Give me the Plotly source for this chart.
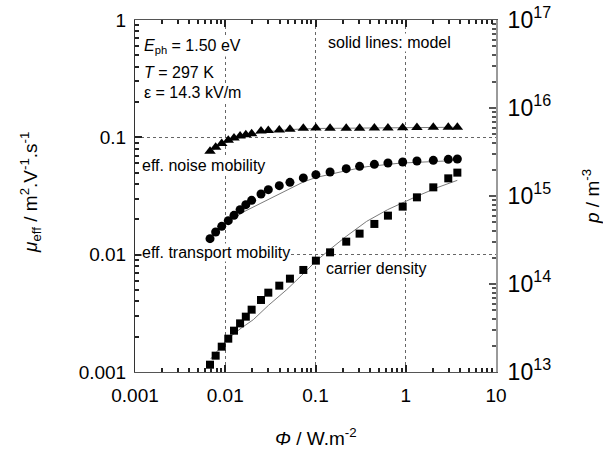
import plotly.graph_objects as go

# Photon flux density (W/m^2) shared by the three measured series
phi = [0.00678, 0.00783, 0.00914, 0.0108, 0.0125, 0.0146, 0.0169, 0.0196,
       0.0249, 0.0300, 0.0397, 0.0521, 0.0733, 0.101, 0.145, 0.219,
       0.308, 0.449, 0.635, 0.925, 1.33, 2.02, 2.96, 3.73]

# Effective noise mobility (m^2/Vs), triangles
mu_noise = [0.0760, 0.0822, 0.0884, 0.0943, 0.0988, 0.1028, 0.1054, 0.1075,
            0.1134, 0.1141, 0.1156, 0.1170, 0.1193, 0.1202, 0.1195, 0.1195,
            0.1198, 0.1200, 0.1203, 0.1206, 0.1212, 0.1217, 0.1217, 0.1217]

# Effective transport mobility (m^2/Vs), circles
mu_transport = [0.01369, 0.01561, 0.01743, 0.01950, 0.02163, 0.02419, 0.02669, 0.02904,
                0.03292, 0.03581, 0.03874, 0.04133, 0.04507, 0.04809, 0.05070, 0.05408,
                0.05659, 0.05884, 0.06049, 0.06169, 0.06291, 0.06365, 0.06492, 0.06543]

# Carrier density (m^-3), squares, right axis
p_density = [1.211e13, 1.533e13, 1.940e13, 2.392e13, 2.949e13, 3.569e13, 4.255e13, 5.108e13,
             6.585e13, 7.973e13, 9.575e13, 1.150e14, 1.444e14, 1.842e14, 2.289e14, 3.029e14,
             3.735e14, 4.813e14, 5.981e14, 7.570e14, 9.656e14, 1.254e15, 1.587e15, 1.843e15]

# Model curves
phi_noise_model = [0.00678, 0.0092, 0.0125, 0.0170, 0.0243, 0.0360, 0.0521, 0.1, 0.311, 0.863, 3.70]
mu_noise_model = [0.0752, 0.0870, 0.0960, 0.1030, 0.1100, 0.1140, 0.1165, 0.1190, 0.1202, 0.1209, 0.1219]

phi_transport_model = [0.00678, 0.0092, 0.0125, 0.0170, 0.0243, 0.0356, 0.0521, 0.0727,
                       0.1, 0.145, 0.219, 0.372, 0.863, 3.70]
mu_transport_model = [0.01424, 0.01767, 0.02067, 0.02372, 0.02722, 0.03152, 0.03652, 0.04150,
                      0.04534, 0.04857, 0.05200, 0.05625, 0.06026, 0.06354]

phi_density_model = [0.00690, 0.00914, 0.01064, 0.0150, 0.02046, 0.0300, 0.0480, 0.070, 0.1,
                     0.150, 0.219, 0.369, 0.631, 1.322, 2.30, 3.726]
p_density_model = [1.406e13, 1.956e13, 2.392e13, 3.15e13, 3.933e13, 5.70e13, 8.625e13, 1.25e14,
                   1.80e14, 2.55e14, 3.479e14, 5.152e14, 6.998e14, 9.911e14, 1.26e15, 1.507e15]

x_ticks = [0.001, 0.01, 0.1, 1, 10]
x_ticktext = ["0.001", "0.01", "0.1", "1", "10"]
y_ticks = [0.001, 0.01, 0.1, 1]
y_ticktext = ["0.001", "0.01", "0.1", "1"]
p_ticks = [1e13, 1e14, 1e15, 1e16, 1e17]
p_ticktext = ["10<sup>13</sup>", "10<sup>14</sup>", "10<sup>15</sup>",
              "10<sup>16</sup>", "10<sup>17</sup>"]


def minor_positions(lo_exp, hi_exp):
    """Positions 2..9 x 10^n between two decades, for minor tick marks."""
    return [m * 10.0 ** e for e in range(lo_exp, hi_exp) for m in range(2, 10)]


FONT = "Arial, Liberation Sans, sans-serif"
LINE_COLOR = "#7a7a7a"
AXIS_DARK = "#222222"
AXIS_GREY = "#9a9a9a"
TICK_W = 1.5

fig = go.Figure()

for xs, ys, axis in [(phi_noise_model, mu_noise_model, "y"),
                     (phi_transport_model, mu_transport_model, "y"),
                     (phi_density_model, p_density_model, "y2")]:
    fig.add_trace(go.Scatter(x=xs, y=ys, mode="lines", yaxis=axis,
                             line=dict(color=LINE_COLOR, width=1),
                             showlegend=False, hoverinfo="skip"))

fig.add_trace(go.Scatter(x=phi, y=mu_noise, mode="markers",
                         marker=dict(symbol="triangle-up", size=10, color="black"),
                         showlegend=False))
fig.add_trace(go.Scatter(x=phi, y=mu_transport, mode="markers",
                         marker=dict(symbol="circle", size=9, color="black"),
                         showlegend=False))
fig.add_trace(go.Scatter(x=phi, y=p_density, mode="markers", yaxis="y2",
                         marker=dict(symbol="square", size=8, color="black"),
                         showlegend=False))

# transparent placeholders so the minor-tick companion axes get rendered
for xa, ya, yv in [("x2", "y3", 0.1), ("x", "y4", 1e15)]:
    fig.add_trace(go.Scatter(x=[0.1], y=[yv], xaxis=xa, yaxis=ya, mode="markers",
                             marker=dict(opacity=0, size=1),
                             showlegend=False, hoverinfo="skip"))

tick_font = dict(family=FONT, size=19, color="black")

fig.update_layout(
    width=603, height=450,
    margin=dict(l=135, r=107, t=20, b=78, autoexpand=False),
    paper_bgcolor="white", plot_bgcolor="white",
    font=dict(family=FONT, color="black"),
    xaxis=dict(
        type="log", range=[-3, 1],
        tickmode="array", tickvals=x_ticks, ticktext=x_ticktext,
        ticks="inside", ticklen=7, tickcolor=AXIS_DARK, tickwidth=TICK_W,
        showline=True, linecolor="#555", linewidth=1, mirror="ticks",
        showgrid=True, gridcolor="#666", griddash="dot", gridwidth=1,
        zeroline=False, tickfont=tick_font, ticklabelstandoff=6,
    ),
    yaxis=dict(
        type="log", range=[-3, 0],
        tickmode="array", tickvals=y_ticks, ticktext=y_ticktext,
        ticks="inside", ticklen=7, tickcolor=AXIS_DARK, tickwidth=TICK_W,
        showline=True, linecolor="#333", linewidth=1,
        showgrid=True, gridcolor="#666", griddash="dot", gridwidth=1,
        zeroline=False, tickfont=tick_font, ticklabelstandoff=4,
    ),
    yaxis2=dict(
        type="log", range=[13, 17], overlaying="y", side="right",
        tickmode="array", tickvals=p_ticks, ticktext=p_ticktext,
        ticks="inside", ticklen=7, tickcolor="#555", tickwidth=TICK_W,
        showline=True, linecolor=AXIS_GREY, linewidth=2,
        showgrid=False, zeroline=False,
        tickfont=dict(family=FONT, size=23, color="black"), ticklabelstandoff=5,
    ),
    # unlabelled companion axes carrying the minor tick marks
    xaxis2=dict(
        type="log", range=[-3, 1], overlaying="x", side="bottom", anchor="y3",
        tickmode="array", tickvals=minor_positions(-3, 1),
        ticks="inside", ticklen=4, tickcolor=AXIS_DARK, tickwidth=TICK_W,
        showline=True, linecolor="#555", linewidth=1, mirror="ticks",
        showgrid=False, zeroline=False, showticklabels=False,
    ),
    yaxis3=dict(
        type="log", range=[-3, 0], overlaying="y", side="left", anchor="x2",
        tickmode="array", tickvals=minor_positions(-3, 0),
        ticks="inside", ticklen=4, tickcolor=AXIS_DARK, tickwidth=TICK_W,
        showline=False, showgrid=False, zeroline=False, showticklabels=False,
    ),
    yaxis4=dict(
        type="log", range=[13, 17], overlaying="y", side="right", anchor="x",
        tickmode="array", tickvals=minor_positions(13, 17),
        ticks="inside", ticklen=4, tickcolor="#555", tickwidth=TICK_W,
        showline=False, showgrid=False, zeroline=False, showticklabels=False,
    ),
)

text_font = dict(family=FONT, size=16, color="black")
notes = [
    ("<i>E</i><sub>ph</sub> = 1.50 eV", 143, 47),
    ("<i>T</i> = 297 K", 143, 72),
    ("ε = 14.3 kV/m", 143, 92),
    ("solid lines: model", 327, 42),
    ("eff. noise mobility", 141, 165),
    ("eff. transport mobility", 141, 253),
    ("carrier density", 325, 268),
]
# annotation positions given in page pixels; convert to paper fractions
L, R, T, B = 135, 496, 20, 372
for txt, px, py in notes:
    fig.add_annotation(
        text=txt, xref="paper", yref="paper",
        x=(px - L) / (R - L), y=(B - py) / (B - T),
        xanchor="left", yanchor="middle", showarrow=False,
        font=text_font, bgcolor="white", borderpad=0,
    )

title_font = dict(family=FONT, size=19, color="black")
fig.add_annotation(
    text="<i>μ</i><sub>eff</sub> / m<sup>2</sup>.V<sup>-1</sup>.s<sup>-1</sup>",
    xref="paper", yref="paper", x=(30 - L) / (R - L), y=(B - 193) / (B - T),
    textangle=-90, showarrow=False, xanchor="center", yanchor="middle", font=title_font,
)
fig.add_annotation(
    text="<i>p</i> / m<sup>-3</sup>",
    xref="paper", yref="paper", x=(591 - L) / (R - L), y=(B - 197) / (B - T),
    textangle=-90, showarrow=False, xanchor="center", yanchor="middle", font=title_font,
)
fig.add_annotation(
    text="<i>Φ</i> / W.m<sup>-2</sup>",
    xref="paper", yref="paper", x=0.5, y=(B - 437) / (B - T),
    showarrow=False, xanchor="center", yanchor="middle", font=title_font,
)

fig.write_html("out.html")
